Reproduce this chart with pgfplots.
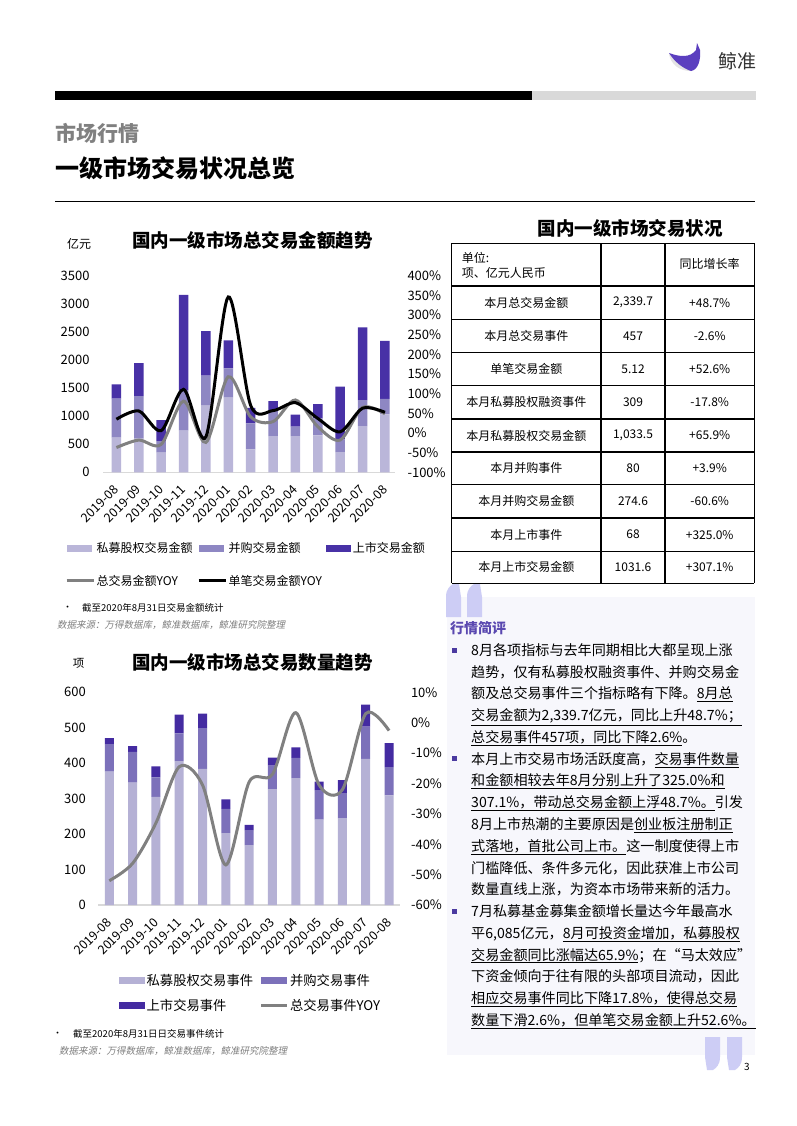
\documentclass[border=0pt]{standalone}
\usepackage{fontspec}
\setmainfont{Noto Sans CJK SC}
\newfontfamily\srcfont{Noto Sans CJK SC}[FakeSlant=0.2]
\usepackage{pgfplots}
\pgfplotsset{compat=1.18}
\definecolor{peA}{HTML}{BAB6D9}
\definecolor{maA}{HTML}{8E87C3}
\definecolor{ipoA}{HTML}{4831A6}
\definecolor{peB}{HTML}{B5B1D5}
\definecolor{maB}{HTML}{7C71BA}
\definecolor{ipoB}{HTML}{442BA1}
\definecolor{lgray}{HTML}{808080}
\definecolor{axgray}{HTML}{D9D9D9}
\definecolor{panel}{HTML}{F7F7FC}
\definecolor{quotec}{HTML}{CDCDF5}
\definecolor{purp}{HTML}{5A48B0}
\definecolor{bul}{HTML}{4B3AA0}
\definecolor{whale}{HTML}{5B3FBF}
\definecolor{srcgray}{HTML}{7F7F7F}
\newcommand{\fs}[1]{\fontsize{#1bp}{#1bp}\selectfont}
\newcommand{\tl}[2]{\node[anchor=base west, inner sep=0pt] at (471,{-655.4-21.76*(#1-1)}) {\fs{14.1}#2};}
\newcommand{\trow}[4]{%
  \node at (526.3,-#1) {\fs{12}#2};
  \node at (633,-#1) {\fs{12}#3};
  \node at (709.7,-#1) {\fs{12}#4};}
\pgfplotsset{
 chartbase/.style={
  scale only axis,
  major tick length=0pt,
  /pgf/number format/assume math mode=true,
  /pgf/number format/1000 sep={},
  ticklabel style={font=\fs{13}},
  y axis line style={draw=none},
  xtick={0,...,12},
 },
}
\begin{document}
\begin{tikzpicture}[x=1bp,y=1bp]
\path[use as bounding box, fill=white] (0,0) rectangle (797,-1126);

% ---------- header ----------
\fill[axgray!70] (669,-54) .. controls (671,-65) and (680,-71) .. (691,-71) .. controls (684,-66) and (676,-60) .. cycle;
\fill[whale] (669,-53) .. controls (680,-57) and (690,-58) .. (696,-50) -- (697,-43) -- (700,-50) .. controls (701,-60) and (698,-70) .. (691,-71) .. controls (682,-68) and (674,-61) .. cycle;
\node[text=black!80] at (737,-61) {\fs{19}鲸准};
\fill[black] (55,-91) rectangle (532,-100);
\fill[axgray] (532,-91) rectangle (756,-100);
\node[anchor=west, inner sep=0pt, text=lgray] at (55,-133) {\fs{21}\bfseries 市场行情};
\node[anchor=west, inner sep=0pt] at (55,-168) {\fs{24}\bfseries 一级市场交易状况总览};
\draw[line width=1bp] (55,-201) -- (755,-201);

% ---------- top chart ----------
\node at (252.5,-240) {\fs{18.5}\bfseries 国内一级市场总交易金额趋势};
\node at (79,-244) {\fs{12}亿元};
\begin{axis}[chartbase,
 at={(103bp,-472.3bp)}, anchor=south west, width=292bp, height=196.6bp,
 xmin=-0.6, xmax=12.45,
 ymin=0, ymax=3500, ytick={0,500,...,3500},
 axis x line*=bottom, axis y line*=left,
 x axis line style={draw=axgray, line width=1.2bp},
 xticklabels={2019-08,2019-09,2019-10,2019-11,2019-12,2020-01,2020-02,2020-03,2020-04,2020-05,2020-06,2020-07,2020-08},
 xticklabel style={font=\fs{12.5}, inner sep=0pt, yshift=-15bp, rotate=45, anchor=east},
 yticklabel style={xshift=-10bp},
 ybar stacked, bar width=9.5bp,
 legend columns=3, legend cell align=left,
 legend style={at={(-0.13,-0.347)}, anchor=north west, draw=none, fill=none, font=\fs{12}, inner sep=0pt, row sep=18bp, /tikz/every even column/.append style={column sep=3bp}, nodes={inner sep=1.5bp}},
]
\addplot[fill=peA, draw=none, legend image code/.code={\fill[peA] (0bp,-3.5bp) rectangle (25bp,3.5bp);}] coordinates {(0,616) (1,600) (2,349) (3,741) (4,1186) (5,1328) (6,409) (7,646) (8,646) (9,658) (10,361) (11,824) (12,1033.5)};
\addplot[fill=maA, draw=none, legend image code/.code={\fill[maA] (0bp,-3.5bp) rectangle (25bp,3.5bp);}] coordinates {(0,694) (1,758) (2,208) (3,724) (4,534) (5,523) (6,463) (7,433) (8,166) (9,302) (10,226) (11,463) (12,274.6)};
\addplot[fill=ipoA, draw=none, legend image code/.code={\fill[ipoA] (0bp,-3.5bp) rectangle (25bp,3.5bp);}] coordinates {(0,256) (1,587) (2,374) (3,1696) (4,795) (5,498) (6,273) (7,190) (8,213) (9,256) (10,937) (11,1294) (12,1031.6)};
\addlegendimage{legend image code/.code={\draw[draw=lgray, line width=3bp] (0bp,0bp) -- (27bp,0bp);}}
\addlegendimage{legend image code/.code={\draw[draw=black, line width=3bp] (0bp,0bp) -- (27bp,0bp);}}
\legend{私募股权交易金额,并购交易金额,上市交易金额,总交易金额YOY,单笔交易金额YOY}
\end{axis}
\begin{axis}[chartbase,
 at={(103bp,-472.3bp)}, anchor=south west, width=292bp, height=196.6bp,
 xmin=-0.6, xmax=12.45, xtick=\empty,
 ymin=-100, ymax=400, ytick={-100,-50,...,400},
 axis y line*=right, axis x line=none,
 yticklabel={\pgfmathprintnumber{\tick}\%},
 yticklabel style={xshift=9bp, anchor=west},
]
\addplot[smooth, draw=lgray, line width=3bp] coordinates {(0,-37) (1,-18) (2,-29) (3,81) (4,-24) (5,143) (6,41) (7,29) (8,84) (9,16) (10,-18) (11,65) (12,48.7)};
\addplot[smooth, draw=black, line width=3bp] coordinates {(0,35) (1,56) (2,6) (3,111) (4,-9.5) (5,346) (6,70) (7,57) (8,77) (9,37) (10,3) (11,63) (12,52.6)};
\end{axis}
\node[anchor=west, inner sep=0pt] at (63,-608) {\fs{9}•};
\node[anchor=west, inner sep=0pt] at (82,-608) {\fs{9.5}截至2020年8月31日交易金额统计};
\node[anchor=west, inner sep=0pt, text=srcgray] at (57,-625) {\srcfont\fs{9.5}数据来源：万得数据库，鲸准数据库，鲸准研究院整理};

% ---------- bottom chart ----------
\node at (252.5,-662) {\fs{18.5}\bfseries 国内一级市场总交易数量趋势};
\node at (78.5,-663) {\fs{11.5}项};
\begin{axis}[chartbase,
 at={(98.3bp,-905bp)}, anchor=south west, width=301.7bp, height=212.7bp,
 xmin=-0.472, xmax=12.47,
 ymin=0, ymax=600, ytick={0,100,...,600},
 axis x line*=bottom, axis y line*=left,
 x axis line style={draw=axgray, line width=1.2bp},
 xticklabels={2019-08,2019-09,2019-10,2019-11,2019-12,2020-01,2020-02,2020-03,2020-04,2020-05,2020-06,2020-07,2020-08},
 xticklabel style={font=\fs{12.5}, inner sep=0pt, yshift=-15bp, rotate=45, anchor=east},
 yticklabel style={xshift=-9bp},
 ybar stacked, bar width=9bp,
 legend columns=2, legend cell align=left,
 legend style={at={(0.0686,-0.315)}, anchor=north west, draw=none, fill=none, font=\fs{13.3}, inner sep=0pt, row sep=10bp, /tikz/every even column/.append style={column sep=5bp}, nodes={inner sep=1.5bp}},
]
\addplot[fill=peB, draw=none, legend image code/.code={\fill[peB] (0bp,-3.5bp) rectangle (26bp,3.5bp);}] coordinates {(0,376) (1,345) (2,305) (3,406) (4,384) (5,203) (6,169) (7,327) (8,358) (9,241) (10,245) (11,412) (12,309)};
\addplot[fill=maB, draw=none, legend image code/.code={\fill[maB] (0bp,-3.5bp) rectangle (26bp,3.5bp);}] coordinates {(0,78) (1,87) (2,55) (3,78) (4,115) (5,68) (6,42) (7,66) (8,57) (9,83) (10,71) (11,91) (12,80)};
\addplot[fill=ipoB, draw=none, legend image code/.code={\fill[ipoB] (0bp,-3.5bp) rectangle (26bp,3.5bp);}] coordinates {(0,17) (1,16) (2,31) (3,53) (4,41) (5,27) (6,15) (7,23) (8,30) (9,24) (10,36) (11,62) (12,68)};
\addlegendimage{legend image code/.code={\draw[draw=lgray, line width=3bp] (0bp,0bp) -- (26bp,0bp);}}
\legend{私募股权交易事件,并购交易事件,上市交易事件,总交易事件YOY}
\end{axis}
\begin{axis}[chartbase,
 at={(98.3bp,-905bp)}, anchor=south west, width=301.7bp, height=212.7bp,
 xmin=-0.472, xmax=12.47, xtick=\empty,
 ymin=-60, ymax=10, ytick={-60,-50,...,10},
 axis y line*=right, axis x line=none,
 yticklabel={\pgfmathprintnumber{\tick}\%},
 yticklabel style={xshift=7.5bp, anchor=west},
]
\addplot[smooth, draw=lgray, line width=3bp] coordinates {(0,-52) (1,-46.3) (2,-33) (3,-14.5) (4,-20.5) (5,-46.8) (6,-19.5) (7,-17) (8,3.3) (9,-20.5) (10,-22) (11,3) (12,-2.6)};
\end{axis}
\node[anchor=west, inner sep=0pt] at (53,-1034) {\fs{9}•};
\node[anchor=west, inner sep=0pt] at (73,-1034) {\fs{9.5}截至2020年8月31日日交易事件统计};
\node[anchor=west, inner sep=0pt, text=srcgray] at (59,-1051) {\srcfont\fs{9.5}数据来源：万得数据库，鲸准数据库，鲸准研究院整理};

% ---------- table ----------
\node at (630,-228.5) {\fs{18.5}\bfseries 国内一级市场交易状况};
\foreach \y in {243.3,286,319.3,352.7,385.7,419,452,484.7,518,551.3,583.3}
  \draw[line width=1.2bp] (451.7,-\y) -- (754.3,-\y);
\foreach \x in {451.7,601,665,754.3}
  \draw[line width=1.2bp] (\x,-243.3) -- (\x,-583.3);
\node[anchor=west, inner sep=0pt] at (461.7,-258.3) {\fs{12}单位:};
\node[anchor=west, inner sep=0pt] at (461.7,-272.7) {\fs{12}项、亿元人民币};
\node at (709.7,-264.3) {\fs{12}同比增长率};
\trow{302.65}{本月总交易金额}{2,339.7}{+48.7\%}
\trow{336}{本月总交易事件}{457}{-2.6\%}
\trow{369.2}{单笔交易金额}{5.12}{+52.6\%}
\trow{402.35}{本月私募股权融资事件}{309}{-17.8\%}
\trow{435.5}{本月私募股权交易金额}{1,033.5}{+65.9\%}
\trow{468.35}{本月并购事件}{80}{+3.9\%}
\trow{501.35}{本月并购交易金额}{274.6}{-60.6\%}
\trow{534.65}{本月上市事件}{68}{+325.0\%}
\trow{567.3}{本月上市交易金额}{1031.6}{+307.1\%}

% ---------- comment panel ----------
\fill[panel] (447,-597) rectangle (755,-1055);
\foreach \xo in {461,482}{
  \begin{scope}[shift={(\xo,-617)}, rotate=180]
    \fill[quotec] (0,0) -- (15,0) -- (15,-20) .. controls (15,-28) and (11,-31) .. (8,-33) -- (2,-33) -- (0,-20) -- cycle;
  \end{scope}}
\foreach \xo in {705,727}{
  \begin{scope}[shift={(\xo,-1037)}]
    \fill[quotec] (0,0) -- (15,0) -- (15,-20) .. controls (15,-28) and (11,-31) .. (8,-33) -- (2,-33) -- (0,-20) -- cycle;
  \end{scope}}
\node[anchor=west, inner sep=0pt, text=purp] at (450,-628) {\fs{14}\bfseries 行情简评};
\fill[bul] (451.7,-647.5) rectangle (456.7,-652.5);
\fill[bul] (451.7,-756.3) rectangle (456.7,-761.3);
\fill[bul] (451.7,-908.6) rectangle (456.7,-913.6);
\tl{1}{8月各项指标与去年同期相比大都呈现上涨}
\tl{2}{趋势，仅有私募股权融资事件、并购交易金}
\tl{3}{额及总交易事件三个指标略有下降。\underline{8月总}}
\tl{4}{\underline{交易金额为2,339.7亿元，同比上升48.7\%；}}
\tl{5}{\underline{总交易事件457项，同比下降2.6\%}。}
\tl{6}{本月上市交易市场活跃度高，\underline{交易事件数量}}
\tl{7}{\underline{和金额相较去年8月分别上升了325.0\%和}}
\tl{8}{\underline{307.1\%，带动总交易金额上浮48.7\%。}引发}
\tl{9}{8月上市热潮的主要原因是\underline{创业板注册制正}}
\tl{10}{\underline{式落地，首批公司上市。}这一制度使得上市}
\tl{11}{门槛降低、条件多元化，因此获准上市公司}
\tl{12}{数量直线上涨，为资本市场带来新的活力。}
\tl{13}{7月私募基金募集金额增长量达今年最高水}
\tl{14}{平6,085亿元，\underline{8月可投资金增加，私募股权}}
\tl{15}{\underline{交易金额同比涨幅达65.9\%}；在“马太效应”}
\tl{16}{下资金倾向于往有限的头部项目流动，因此}
\tl{17}{\underline{相应交易事件同比下降17.8\%，使得总交易}}
\tl{18}{\underline{数量下滑2.6\%，但单笔交易金额上升52.6\%。}}
\node at (747,-1067) {\fs{10}3};
\end{tikzpicture}
\end{document}
